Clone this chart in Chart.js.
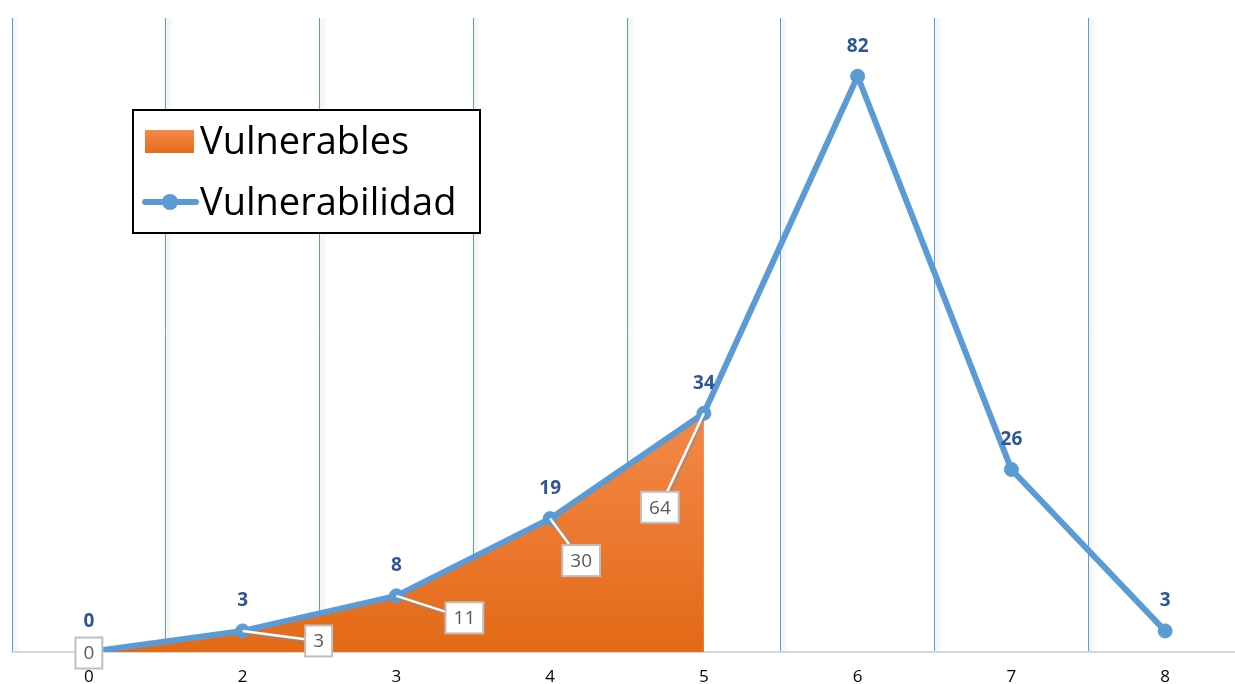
<!DOCTYPE html>
<html>
<head>
<meta charset="utf-8">
<title>Vulnerabilidad</title>
<script src="https://cdn.jsdelivr.net/npm/chart.js@4.4.1/dist/chart.umd.min.js"></script>
<style>
    html, body { margin: 0; padding: 0; background: #fff; overflow: hidden; }
    #chart { display: block; }
</style>
</head>
<body>
<canvas id="chart" width="1250" height="684"></canvas>
<script>
// categories and values
const categorias = ['0', '2', '3', '4', '5', '6', '7', '8'];
const vulnerabilidad = [0, 3, 8, 19, 34, 82, 26, 3];
const vulnerables = [0, 3, 8, 19, 34, null, null, null];
const acumulado = [0, 3, 11, 30, 64];

// where each boxed label sits relative to its point (px)
const cajaOffset = [[0, 1], [76, 10], [68, 22], [31, 42], [-44, 94]];

const azul = '#5b9bd5';

const etiquetas = {
    id: 'etiquetas',
    afterDatasetsDraw(chart) {
        const ctx = chart.ctx;
        const linea = chart.getDatasetMeta(1).data;

        // leader lines + boxed cumulative labels
        ctx.save();
        ctx.font = '19px "Open Sans", sans-serif';
        ctx.textAlign = 'center';
        ctx.textBaseline = 'middle';
        acumulado.forEach(function(v, i) {
            const p = linea[i];
            const cx = p.x + cajaOffset[i][0];
            const cy = p.y + cajaOffset[i][1];
            if (i > 0) {
                ctx.strokeStyle = 'rgba(140,140,140,0.55)';
                ctx.lineWidth = 5;
                ctx.beginPath(); ctx.moveTo(p.x + 1, p.y + 1); ctx.lineTo(cx + 1, cy + 1); ctx.stroke();
                ctx.strokeStyle = '#ffffff';
                ctx.lineWidth = 2.5;
                ctx.beginPath(); ctx.moveTo(p.x, p.y); ctx.lineTo(cx, cy); ctx.stroke();
            }
            const w = ctx.measureText(String(v)).width + 16;
            const h = 31;
            ctx.fillStyle = '#ffffff';
            ctx.fillRect(cx - w / 2, cy - h / 2, w, h);
            ctx.strokeStyle = '#bfbfbf';
            ctx.lineWidth = 2;
            ctx.strokeRect(cx - w / 2, cy - h / 2, w, h);
            ctx.fillStyle = '#595959';
            ctx.fillText(String(v), cx, cy + 1);
        });

        // value labels above the line
        ctx.font = 'bold 19px "Open Sans", sans-serif';
        ctx.fillStyle = '#2f5597';
        vulnerabilidad.forEach(function(v, i) {
            const p = linea[i];
            ctx.fillText(String(v), p.x, p.y - 30);
        });
        ctx.restore();
    },
    afterDraw(chart) {
        // legend box
        const ctx = chart.ctx;
        ctx.save();
        ctx.fillStyle = '#ffffff';
        ctx.fillRect(133, 110, 347, 123);
        ctx.strokeStyle = '#000000';
        ctx.lineWidth = 2;
        ctx.strokeRect(133, 110, 347, 123);

        const g = ctx.createLinearGradient(0, 130, 0, 153);
        g.addColorStop(0, '#f4894a');
        g.addColorStop(1, '#e46c1a');
        ctx.fillStyle = g;
        ctx.fillRect(145, 130, 49, 23);

        ctx.strokeStyle = azul;
        ctx.lineWidth = 6;
        ctx.lineCap = 'round';
        ctx.beginPath(); ctx.moveTo(145, 202); ctx.lineTo(196, 202); ctx.stroke();
        ctx.fillStyle = azul;
        ctx.beginPath(); ctx.arc(170, 202, 8, 0, Math.PI * 2); ctx.fill();

        ctx.fillStyle = '#000000';
        ctx.font = '38px "Open Sans", sans-serif';
        ctx.textBaseline = 'alphabetic';
        ctx.fillText('Vulnerables', 200, 154, 220);
        ctx.fillText('Vulnerabilidad', 200, 215, 268);
        ctx.restore();
    }
};

const sombraGrid = {
    id: 'sombraGrid',
    beforeDatasetsDraw(chart) {
        const ctx = chart.ctx;
        const a = chart.chartArea;
        ctx.save();
        for (let i = 0; i <= categorias.length; i++) {
            const gx = a.left + i * (a.right - a.left) / categorias.length;
            const g = ctx.createLinearGradient(gx, 0, gx + 8, 0);
            g.addColorStop(0, 'rgba(0,0,0,0.06)');
            g.addColorStop(1, 'rgba(0,0,0,0)');
            ctx.fillStyle = g;
            ctx.fillRect(gx + 1, a.top, 8, a.bottom - a.top);
        }
        ctx.restore();
    }
};

const chart = new Chart(document.getElementById('chart').getContext('2d'), {
    type: 'line',
    data: {
        labels: categorias,
        datasets: [{
            label: 'Vulnerables',
            data: vulnerables,
            fill: 'origin',
            borderWidth: 0,
            pointRadius: 0,
            tension: 0,
            backgroundColor: function(context) {
                const area = context.chart.chartArea;
                if (!area) return '#ed7d31';
                const g = context.chart.ctx.createLinearGradient(0, area.top + 390, 0, area.bottom);
                g.addColorStop(0, '#f4894a');
                g.addColorStop(1, '#e36a16');
                return g;
            },
            order: 2
        }, {
            label: 'Vulnerabilidad',
            data: vulnerabilidad,
            fill: false,
            borderColor: azul,
            borderWidth: 6,
            backgroundColor: azul,
            pointBackgroundColor: azul,
            pointBorderColor: azul,
            pointRadius: 7,
            pointBorderWidth: 1,
            borderJoinStyle: 'round',
            tension: 0,
            order: 1
        }]
    },
    options: {
        responsive: false,
        animation: false,
        layout: { padding: { left: 12, right: 6, top: 18, bottom: 0 } },
        plugins: { legend: { display: false }, tooltip: { enabled: false } },
        scales: {
            x: {
                offset: true,
                grid: {
                    offset: true,
                    color: azul,
                    lineWidth: 1,
                    drawTicks: false
                },
                border: { display: true, color: '#d9d9d9', width: 2 },
                ticks: {
                    color: '#000000',
                    padding: 15,
                    font: { family: '"Open Sans", sans-serif', size: 17 }
                },
                afterFit: function(scale) { scale.height = 32; }
            },
            y: {
                display: false,
                min: 0,
                max: 90.3
            }
        }
    },
    plugins: [sombraGrid, etiquetas]
});
</script>
</body>
</html>
